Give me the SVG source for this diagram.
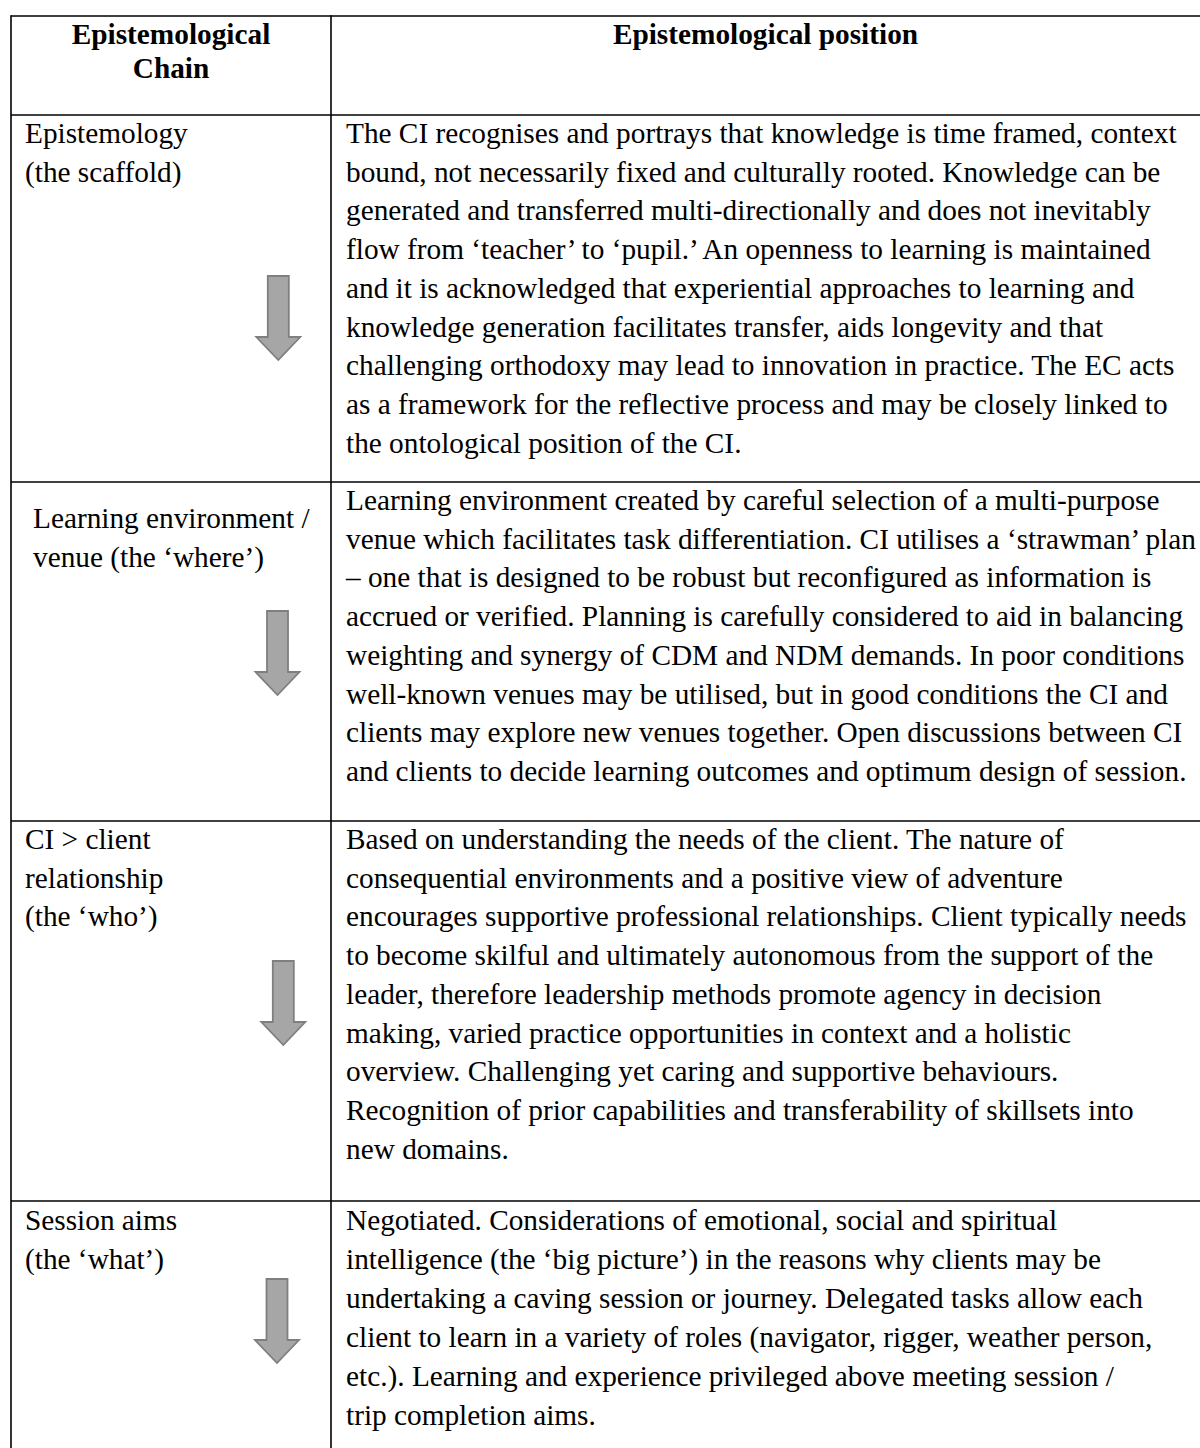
<svg xmlns="http://www.w3.org/2000/svg" xmlns:xlink="http://www.w3.org/1999/xlink" width="1200" height="1448" viewBox="0 0 1200 1448">
  <style>
    .t { font-family: "Liberation Serif", "Times New Roman", serif; font-size: 29.3px; fill: #000; }
    .h { font-weight: bold; }
    .grid { stroke: #000; stroke-width: 1.6; fill: none; }
    .arrow { fill: #a6a6a6; stroke: #7f7f7f; stroke-width: 1.8; stroke-linejoin: miter; }
  </style>
  <defs>
    <!-- block arrow pointing down, origin at top centre of shaft -->
    <path id="downArrow" class="arrow" d="M -10.5 0 H 10.5 V 61 H 22 L 0 84 L -22 61 H -10.5 Z"/>
  </defs>

  <rect width="1200" height="1448" fill="#fff"/>

  <!-- table rules -->
  <g id="grid" class="grid">
    <line x1="11" y1="16" x2="1200" y2="16"/>
    <line x1="11" y1="15.2" x2="11" y2="1448"/>
    <line x1="331" y1="15.2" x2="331" y2="1448"/>
    <line x1="11" y1="115" x2="1200" y2="115"/>
    <line x1="11" y1="482" x2="1200" y2="482"/>
    <line x1="11" y1="821" x2="1200" y2="821"/>
    <line x1="11" y1="1201" x2="1200" y2="1201"/>
  </g>

  <!-- header row -->
  <g id="header">
    <text class="t h" x="171" y="44" text-anchor="middle">Epistemological</text>
    <text class="t h" x="171" y="77.5" text-anchor="middle">Chain</text>
    <text class="t h" x="765.5" y="44" text-anchor="middle">Epistemological position</text>
  </g>

  <!-- row 1: epistemology -->
  <g id="row-epistemology">
    <text class="t" x="25" y="143">Epistemology</text>
    <text class="t" x="25" y="181.7">(the scaffold)</text>
    <text class="t" x="346" y="143">The CI recognises and portrays that knowledge is time framed, context</text>
    <text class="t" x="346" y="181.7">bound, not necessarily fixed and culturally rooted. Knowledge can be</text>
    <text class="t" x="346" y="220.4">generated and transferred multi-directionally and does not inevitably</text>
    <text class="t" x="346" y="259.1">flow from ‘teacher’ to ‘pupil.’ An openness to learning is maintained</text>
    <text class="t" x="346" y="297.8">and it is acknowledged that experiential approaches to learning and</text>
    <text class="t" x="346" y="336.5">knowledge generation facilitates transfer, aids longevity and that</text>
    <text class="t" x="346" y="375.2">challenging orthodoxy may lead to innovation in practice. The EC acts</text>
    <text class="t" x="346" y="413.9">as a framework for the reflective process and may be closely linked to</text>
    <text class="t" x="346" y="452.6">the ontological position of the CI.</text>
  </g>

  <!-- row 2: learning environment -->
  <g id="row-venue">
    <text class="t" x="33" y="528">Learning environment /</text>
    <text class="t" x="33" y="566.7">venue (the ‘where’)</text>
    <text class="t" x="346" y="510">Learning environment created by careful selection of a multi-purpose</text>
    <text class="t" x="346" y="548.7">venue which facilitates task differentiation. CI utilises a ‘strawman’ plan</text>
    <text class="t" x="346" y="587.4">– one that is designed to be robust but reconfigured as information is</text>
    <text class="t" x="346" y="626.1">accrued or verified. Planning is carefully considered to aid in balancing</text>
    <text class="t" x="346" y="664.8">weighting and synergy of CDM and NDM demands. In poor conditions</text>
    <text class="t" x="346" y="703.5">well-known venues may be utilised, but in good conditions the CI and</text>
    <text class="t" x="346" y="742.2">clients may explore new venues together. Open discussions between CI</text>
    <text class="t" x="346" y="780.9">and clients to decide learning outcomes and optimum design of session.</text>
  </g>

  <!-- row 3: CI > client relationship -->
  <g id="row-relationship">
    <text class="t" x="25" y="849">CI &gt; client</text>
    <text class="t" x="25" y="887.7">relationship</text>
    <text class="t" x="25" y="926.4">(the ‘who’)</text>
    <text class="t" x="346" y="849">Based on understanding the needs of the client. The nature of</text>
    <text class="t" x="346" y="887.7">consequential environments and a positive view of adventure</text>
    <text class="t" x="346" y="926.4">encourages supportive professional relationships. Client typically needs</text>
    <text class="t" x="346" y="965.1">to become skilful and ultimately autonomous from the support of the</text>
    <text class="t" x="346" y="1003.8">leader, therefore leadership methods promote agency in decision</text>
    <text class="t" x="346" y="1042.5">making, varied practice opportunities in context and a holistic</text>
    <text class="t" x="346" y="1081.2">overview. Challenging yet caring and supportive behaviours.</text>
    <text class="t" x="346" y="1119.9">Recognition of prior capabilities and transferability of skillsets into</text>
    <text class="t" x="346" y="1158.6">new domains.</text>
  </g>

  <!-- row 4: session aims -->
  <g id="row-aims">
    <text class="t" x="25" y="1230">Session aims</text>
    <text class="t" x="25" y="1269">(the ‘what’)</text>
    <text class="t" x="346" y="1230">Negotiated. Considerations of emotional, social and spiritual</text>
    <text class="t" x="346" y="1269">intelligence (the ‘big picture’) in the reasons why clients may be</text>
    <text class="t" x="346" y="1308">undertaking a caving session or journey. Delegated tasks allow each</text>
    <text class="t" x="346" y="1347">client to learn in a variety of roles (navigator, rigger, weather person,</text>
    <text class="t" x="346" y="1386">etc.). Learning and experience privileged above meeting session /</text>
    <text class="t" x="346" y="1425">trip completion aims.</text>
  </g>

  <!-- downward arrows linking the chain -->
  <g id="connectors">
    <use xlink:href="#downArrow" x="278.3" y="276"/>
    <use xlink:href="#downArrow" x="277.5" y="611"/>
    <use xlink:href="#downArrow" x="283.3" y="961"/>
    <use xlink:href="#downArrow" x="277" y="1279"/>
  </g>
</svg>
